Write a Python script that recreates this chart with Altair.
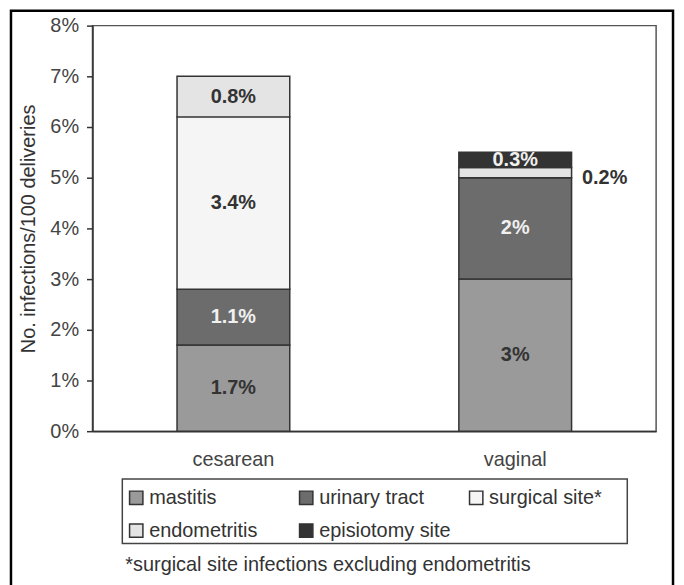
import altair as alt
import pandas as pd

FONT = "Liberation Sans"

deliveries = ["cesarean", "vaginal"]
infection_types = ["mastitis", "urinary tract", "surgical site*", "endometritis", "episiotomy site"]
cesarean_values = [1.7, 1.1, 3.4, 0.8, 0.0]
vaginal_values = [3.0, 2.0, 0.0, 0.2, 0.3]
cesarean_labels = ["1.7%", "1.1%", "3.4%", "0.8%", ""]
vaginal_labels = ["3%", "2%", "", "0.2%", "0.3%"]
type_colors = ["#9a9a9a", "#6c6c6c", "#f5f5f5", "#e4e4e4", "#333333"]
y_ticks = [0, 1, 2, 3, 4, 5, 6, 7, 8]
y_title = "No. infections/100 deliveries"
footnote = "*surgical site infections excluding endometritis"

rows = []
for d, vals, labs in [("cesarean", cesarean_values, cesarean_labels),
                      ("vaginal", vaginal_values, vaginal_labels)]:
    cum = 0.0
    for i, (t, v, l) in enumerate(zip(infection_types, vals, labs)):
        if v <= 0:
            continue
        rows.append({"delivery": d, "type": t, "value": v, "label": l,
                     "order": i, "mid": cum + v / 2})
        cum += v
df = pd.DataFrame(rows)

base = alt.Chart(df)

x_enc = alt.X("delivery:N",
              scale=alt.Scale(domain=deliveries, paddingInner=0.6, paddingOuter=0.3),
              axis=alt.Axis(title=None, labelAngle=0, ticks=False, labelPadding=19,
                            labelFontSize=20, labelColor="#444", domainColor="#333",
                            domainWidth=1.5))
y_scale = alt.Scale(domain=[0, 8], nice=False)

bars = base.mark_bar(stroke="#333", strokeWidth=1.5).encode(
    x=x_enc,
    y=alt.Y("value:Q", stack="zero", scale=y_scale,
            axis=alt.Axis(values=y_ticks, labelExpr="datum.value + '%'", grid=False,
                          tickSize=6, tickColor="#333", tickWidth=1.5,
                          labelFontSize=20, labelColor="#444", labelPadding=8,
                          domainColor="#333", domainWidth=1.5,
                          title=y_title, titleFontSize=20, titleFontWeight="normal",
                          titleColor="#333", titleX=-64, titleY=204,
                          titleAlign="center", titleBaseline="middle")),
    color=alt.Color("type:N", scale=alt.Scale(domain=infection_types, range=type_colors),
                    legend=alt.Legend(title=None, orient="none", legendX=34, legendY=465,
                                      direction="horizontal",
                                      columns=3, gridAlign="all", columnPadding=15,
                                      rowPadding=13, symbolType="square", symbolSize=180,
                                      symbolStrokeColor="#333", symbolStrokeWidth=1.5,
                                      labelFontSize=20, labelColor="#333", labelOffset=3,
                                      padding=0, labelFont=FONT, labelLimit=300)),
    order=alt.Order("order:Q"),
)

dark_types = alt.FieldOneOfPredicate(field="type", oneOf=["urinary tract", "episiotomy site"])

labels_in = base.transform_filter("datum.value >= 0.25").mark_text(
    fontWeight="bold", fontSize=20, font=FONT, baseline="middle").encode(
    x=alt.X("delivery:N"),
    y=alt.Y("mid:Q"),
    text="label:N",
    color=alt.condition(dark_types, alt.value("#f0f0f0"), alt.value("#333333")),
)

labels_out = base.transform_filter("datum.value < 0.25").mark_text(
    fontWeight="bold", fontSize=20, font=FONT, baseline="middle", dx=90, dy=5,
    color="#333333").encode(
    x=alt.X("delivery:N"),
    y=alt.Y("mid:Q"),
    text="label:N",
)

one = pd.DataFrame({"k": [0]})
legend_box = alt.Chart(one).mark_rect(fillOpacity=0, stroke="#444", strokeWidth=1.5).encode(
    x=alt.value(30), x2=alt.value(538), y=alt.value(456), y2=alt.value(521))
outer_box = alt.Chart(one).mark_rect(fillOpacity=0, stroke="#000", strokeWidth=2.5).encode(
    x=alt.value(-82), x2=alt.value(584), y=alt.value(-15), y2=alt.value(600))
note = alt.Chart(one).mark_text(align="left", baseline="middle", fontSize=20, font=FONT,
                                color="#333").encode(
    x=alt.value(33), y=alt.value(543), text=alt.value(footnote))

chart = alt.layer(bars, labels_in, labels_out, legend_box, outer_box, note).properties(
    width=567, height=408,
    autosize=alt.AutoSizeParams(type="none"),
    padding={"left": 85, "top": 16, "right": 20, "bottom": 153},
).configure(font=FONT).configure_view(stroke="#555", strokeWidth=1.5)

chart.save("out.html", embed_options={"renderer": "svg", "actions": False})
